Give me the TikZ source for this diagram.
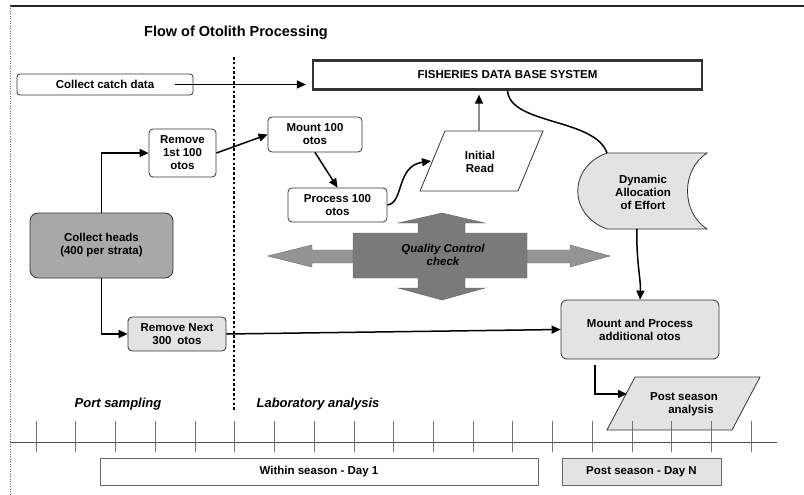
\documentclass[tikz,border=0pt]{standalone}
\usepackage{fontspec}
\setmainfont{Liberation Sans}
\usetikzlibrary{arrows.meta}
\definecolor{lightfill}{gray}{0.89}
\definecolor{headfill}{gray}{0.66}
\definecolor{qcdark}{gray}{0.48}
\definecolor{qclight}{gray}{0.58}
\begin{document}
\begin{tikzpicture}[x=1pt,y=-1pt,
  lbl/.style={font=\fontsize{11.5}{13}\selectfont\bfseries, align=center, inner sep=0pt},
  rbox/.style={lbl, draw=black!80, line width=0.8pt, rounded corners=4pt},
  sqbox/.style={lbl, draw=black!75, line width=0.8pt},
  arr/.style={line width=1.5pt, -{Triangle[length=9pt,width=8pt]}},
  conn/.style={line width=1.5pt},
  shapeline/.style={draw=black!80, line width=0.8pt},
  tick/.style={draw=black!55, line width=0.5pt},
  sect/.style={font=\fontsize{13}{15}\selectfont\bfseries\itshape, inner sep=0pt}
]
\useasboundingbox (0,0) rectangle (804,495);

% frame
\draw[black!85, line width=1.4pt] (10,6) -- (804,6);
\draw[black!60, line width=0.5pt, dotted] (10,6) -- (10,495);

% title
\node[font=\fontsize{14.5}{16}\selectfont\bfseries, inner sep=0pt] (title) at (236,33) {Flow of Otolith Processing};

% dotted divider
\draw[line width=2.6pt, dash pattern=on 2.6pt off 2.2pt] (234,57) -- (234,410);

% boxes
\node[rbox, rounded corners=3pt, minimum width=176pt, minimum height=21pt] (catch) at (105,84.5) {Collect catch data};
\node[sqbox, draw=black!80, line width=2.2pt, minimum width=389pt, minimum height=29pt] (fdbs) at (507.5,75) {FISHERIES DATA BASE SYSTEM};
\node[rbox, minimum width=67pt, minimum height=48pt] (rem1) at (182.5,153) {Remove\\1st 100\\otos};
\node[rbox, minimum width=94pt, minimum height=35pt] (mount) at (315,134.5) {Mount 100\\otos};
\node[rbox, minimum width=99pt, minimum height=34pt] (proc) at (337.5,205) {Process 100\\otos};
\node[rbox, fill=headfill, rounded corners=8pt, minimum width=143pt, minimum height=65pt] (heads) at (101.5,245.5) {Collect heads\\(400 per strata)};
\node[rbox, fill=lightfill, minimum width=98pt, minimum height=34pt] (remN) at (177,334) {Remove Next\\300\enspace otos};
\node[rbox, fill=lightfill, rounded corners=6pt, minimum width=158pt, minimum height=59pt] (mp) at (640,329.5) {Mount and Process\\additional otos};

% initial read parallelogram
\draw[shapeline, fill=white] (445,131) -- (543,131) -- (518,191) -- (420,191) -- cycle;
\node[lbl] (init) at (480,162) {Initial\\Read};
\coordinate (initT) at (479,131);
\coordinate (initL) at (431,161);

% dynamic allocation (stored data)
\draw[shapeline, fill=lightfill] (607,153) -- (707,153) .. controls (681,170) and (681,212) .. (707,229)
  -- (607,229) .. controls (568,215) and (568,167) .. (607,153) -- cycle;
\node[lbl] (dyn) at (643,192) {Dynamic\\Allocation\\of Effort};
\coordinate (dynT) at (607,153);
\coordinate (dynB) at (637,229);

% post season analysis parallelogram
\draw[shapeline, fill=lightfill] (635,377) -- (760,377) -- (732,430) -- (607,430) -- cycle;
\node[lbl] (post) at (684,404) {Post season\\\hspace*{14pt}analysis};
\coordinate (postL) at (627,394);

% quality control cross arrow
\fill[qclight, draw=black!60, line width=0.4pt] (268,256) -- (312,245) -- (312,250) -- (360,250) -- (360,263) -- (312,263) -- (312,267) -- cycle;
\fill[qclight, draw=black!60, line width=0.4pt] (610,256) -- (570,245) -- (570,250) -- (520,250) -- (520,263) -- (570,263) -- (570,267) -- cycle;
\fill[qcdark, draw=black!60, line width=0.4pt] (353,233) -- (418,233) -- (418,223) -- (398,223) -- (442,213) -- (485,223) -- (465,223) -- (465,233) -- (527,233)
  -- (527,278) -- (465,278) -- (465,288) -- (485,288) -- (442,300) -- (398,288) -- (418,288) -- (418,278) -- (353,278) -- cycle;
\node[font=\fontsize{11.5}{13}\selectfont\bfseries\itshape, align=center, inner sep=0pt] (qc) at (443,255) {Quality Control\\check};

% section labels
\node[sect] (port) at (118,404) {Port sampling};
\node[sect] (lab) at (318,404) {Laboratory analysis};

% timeline
\draw[black!70, line width=0.8pt] (10,442) -- (777,442);
\foreach \k in {0,...,18} {
  \draw[tick] ({36+39.72*\k},421) -- ({36+39.72*\k},452);
}
\node[sqbox, draw=black!60, line width=0.6pt, fill=white, minimum width=438pt, minimum height=27pt] (within) at (319,471.5) {Within season - Day 1};
\node[sqbox, draw=black!60, line width=0.6pt, fill=lightfill, minimum width=159pt, minimum height=27pt] (postN) at (641.5,471.5) {Post season - Day N};

% connectors
\draw[arr] ([xshift=-18pt]catch.east) -- ([xshift=-6pt]fdbs.west |- catch.east);
\draw[arr] (heads.north) |- (rem1.west);
\draw[arr] (heads.south) |- (remN.west);
\draw[arr] (rem1.east) -- (mount.west);
\draw[arr] (mount.south) -- (proc.north);
\draw[arr] (proc.east) .. controls (404,203) and (396,166) .. (initL);
\draw[line width=1.3pt, black!45, -{Triangle[length=9pt,width=8pt,black]}] (initT) -- ([yshift=-4pt]fdbs.south -| initT);
\draw[conn] (fdbs.south) .. controls (510,125) and (595,118) .. (dynT);
\draw[arr] (dynB) .. controls (636,260) and (641,280) .. (mp.north);
\draw[arr] (remN.east) -- (mp.west);
\draw[arr] ([xshift=-45pt,yshift=-6pt]mp.south) |- (postL);
\end{tikzpicture}
\end{document}
